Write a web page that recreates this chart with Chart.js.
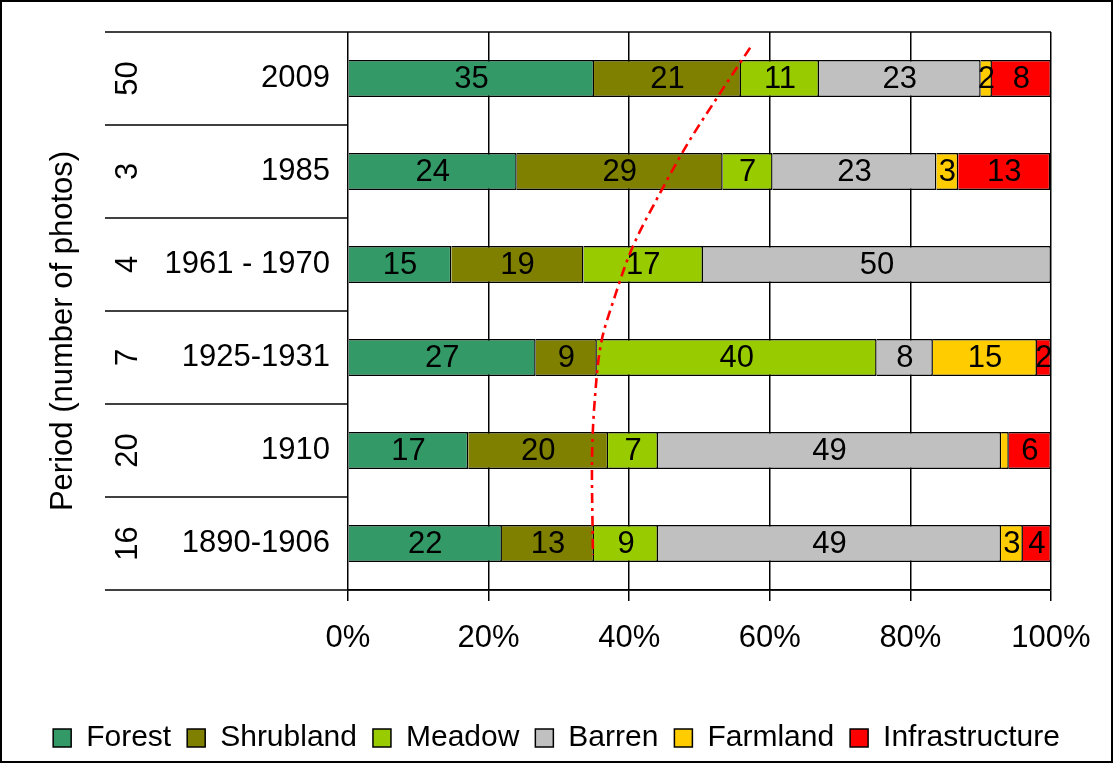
<!DOCTYPE html>
<html>
<head>
<meta charset="utf-8">
<script src="https://cdn.jsdelivr.net/npm/chart.js@4/dist/chart.umd.min.js"></script>
<style>
  html, body { margin: 0; padding: 0; background: #fff; overflow: hidden; }
  canvas { display: block; }
</style>
</head>
<body>
<canvas id="c" width="1113" height="763"></canvas>
<script>
// ---- data (top row first) ----
const periods = ['2009', '1985', '1961 - 1970', '1925-1931', '1910', '1890-1906'];
const photos = ['50', '3', '4', '7', '20', '16'];
const forest = [35.0, 24.0, 14.7, 26.7, 17.1, 21.9];
const shrubland = [20.9, 29.3, 18.8, 8.7, 19.9, 13.1];
const meadow = [11.1, 7.1, 17.0, 39.8, 7.1, 9.1];
const barren = [23.0, 23.3, 49.5, 8.0, 48.8, 48.8];
const farmland = [1.6, 3.1, 0, 14.8, 1.1, 3.1];
const infrastructure = [8.4, 13.1, 0, 2.0, 6.0, 4.0];
const xTicks = [0, 20, 40, 60, 80, 100];
// trend curve: position along the period axis (row index) and percentage
const trendPos = [-0.33, 0.16, 0.69, 1.23, 1.81, 2.38, 2.81, 3.46, 4.21, 5.12];
const trendPct = [57.2, 52.9, 48.4, 44.4, 40.5, 37.8, 36.1, 35.1, 34.7, 34.85];

const FONT = '"Liberation Sans", Arial, sans-serif';
const minLabel = 1.2;
const rowMin = -0.5, rowMax = periods.length - 0.5;

const seriesDefs = [
  ['Forest', forest, '#339966'],
  ['Shrubland', shrubland, '#808000'],
  ['Meadow', meadow, '#99CC00'],
  ['Barren', barren, '#C0C0C0'],
  ['Farmland', farmland, '#FFCC00'],
  ['Infrastructure', infrastructure, '#FF0000']
];

const datasets = seriesDefs.map(([label, data, color]) => ({
  label,
  data: data.map((v, i) => ({ x: v, y: i })),
  backgroundColor: color,
  borderColor: '#000',
  borderWidth: 1.5,
  barPercentage: 0.4,
  categoryPercentage: 1.0,
  grouped: false,
  xAxisID: 'x', yAxisID: 'y'
}));

datasets.push({
  type: 'line',
  label: 'trend',
  indexAxis: 'y',
  data: trendPos.map((p, i) => ({ x: trendPct[i], y: p })),
  xAxisID: 'x', yAxisID: 'y',
  borderColor: '#FF0000',
  borderWidth: 2.6,
  borderDash: [10, 5, 3, 5],
  pointRadius: 0,
  fill: false,
  cubicInterpolationMode: 'monotone',
  clip: false,
  order: -1,
  stack: 'trend'
});

function drawBarLabels(chart) {
  const ctx = chart.ctx;
  ctx.save();
  ctx.font = '31px ' + FONT;
  ctx.fillStyle = '#000';
  ctx.textAlign = 'center';
  ctx.textBaseline = 'middle';
  chart.data.datasets.forEach((ds, di) => {
    if (ds.type === 'line') return;
    const meta = chart.getDatasetMeta(di);
    meta.data.forEach((el, i) => {
      const v = ds.data[i].x;
      if (v < minLabel) return;
      const p = el.getProps(['x', 'base', 'y'], true);
      ctx.fillText(String(Math.round(v)), (p.x + p.base) / 2, p.y + 1);
    });
  });
  ctx.restore();
}

const decor = {
  id: 'decor',
  beforeDatasetDraw(chart, args) {
    if (chart.data.datasets[args.index].type === 'line') drawBarLabels(chart);
  },
  afterDraw(chart) {
    const ctx = chart.ctx;
    const ys = chart.scales.y;
    const area = chart.chartArea;
    ctx.save();
    // category separators across the label area
    ctx.strokeStyle = '#000';
    ctx.lineWidth = 1.5;
    for (let i = 0; i <= periods.length; i++) {
      const yy = ys.getPixelForValue(i - 0.5);
      const right = (i === 0 || i === periods.length) ? area.right : area.left;
      ctx.beginPath();
      ctx.moveTo(105, yy);
      ctx.lineTo(right, yy);
      ctx.stroke();
    }
    // photo counts (rotated)
    ctx.fillStyle = '#000';
    ctx.font = '31px ' + FONT;
    ctx.textAlign = 'center';
    ctx.textBaseline = 'middle';
    photos.forEach((t, i) => {
      ctx.save();
      ctx.translate(128, ys.getPixelForValue(i));
      ctx.rotate(-Math.PI / 2);
      ctx.fillText(t, 0, 0);
      ctx.restore();
    });
    // axis title
    ctx.save();
    ctx.translate(63, 331);
    ctx.rotate(-Math.PI / 2);
    ctx.fillText('Period (number of photos)', 0, 0);
    ctx.restore();
    // outer frame
    ctx.lineWidth = 2;
    ctx.strokeStyle = '#000';
    ctx.strokeRect(1, 1, chart.width - 2, chart.height - 2);
    ctx.restore();
  }
};

new Chart(document.getElementById('c'), {
  type: 'bar',
  data: { datasets },
  options: {
    indexAxis: 'y',
    responsive: false,
    animation: false,
    layout: { padding: { left: 0, top: 32, right: 0, bottom: 0 } },
    scales: {
      x: {
        type: 'linear',
        stacked: true,
        min: 0, max: 100,
        afterBuildTicks: s => { s.ticks = xTicks.map(v => ({ value: v })); s.min = 0; s.max = 100; },
        ticks: { callback: v => v + '%', font: { family: FONT, size: 31 }, color: '#000', padding: 19 },
        grid: { color: '#000', lineWidth: 1.5, tickLength: 11, drawTicks: true },
        border: { display: true, color: '#000', width: 1.5 },
        afterFit: s => { s.height = 117; }
      },
      y: {
        type: 'linear',
        stacked: true,
        offset: false,
        min: rowMin, max: rowMax,
        reverse: true,
        bounds: 'data',
        afterBuildTicks: s => {
          s.min = rowMin; s.max = rowMax;
          s.ticks = periods.map((_, i) => ({ value: i }));
        },
        grid: { display: false, offset: false, drawTicks: true, tickLength: 18 },
        border: { display: false },
        ticks: {
          autoSkip: false,
          callback: v => periods[v],
          font: { family: FONT, size: 31 }, color: '#000', padding: 0
        },
        afterFit: s => { s.width = 348; }
      },
      yR: {
        type: 'linear',
        position: 'right',
        display: true,
        offset: false,
        grid: { display: false, drawTicks: false },
        border: { display: false },
        ticks: { display: false },
        afterFit: s => { s.width = 62; }
      }
    },
    plugins: {
      legend: {
        position: 'bottom',
        labels: {
          filter: item => item.datasetIndex < seriesDefs.length,
          font: { family: FONT, size: 30 },
          color: '#000',
          boxWidth: 18, boxHeight: 18,
          padding: 16
        }
      },
      tooltip: { enabled: false }
    }
  },
  plugins: [decor]
});
</script>
</body>
</html>
